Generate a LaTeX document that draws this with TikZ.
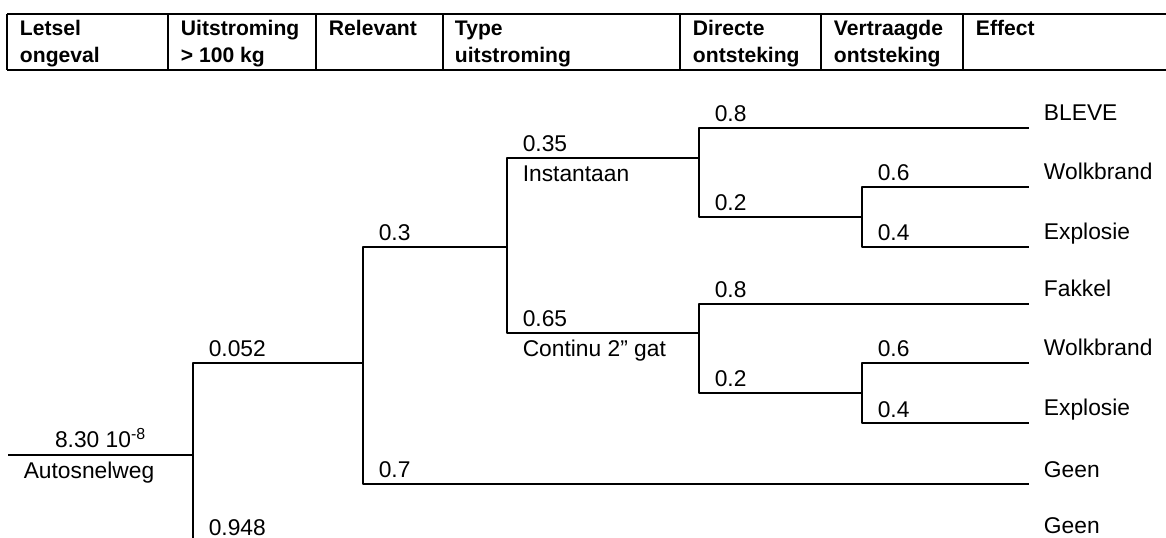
\documentclass[tikz,border=0pt]{standalone}
\usepackage{fontspec}
\setmainfont{Liberation Sans}
\begin{document}
\begin{tikzpicture}[x=0.025cm, y=-0.025cm, line width=1.4pt, line join=round,
  font=\fontsize{16.2}{19}\selectfont,
  head/.style={anchor=base west, inner sep=0pt, align=left, font=\fontsize{15}{19.2}\selectfont\bfseries},
  prob/.style={anchor=base west, inner sep=0pt, xshift=0.37cm, yshift=0.15cm},
  under/.style={anchor=base west, inner sep=0pt, xshift=0.37cm, yshift=-0.575cm},
  eff/.style={anchor=base west, inner sep=0pt, xshift=0.35cm, yshift=0.175cm}]
 \useasboundingbox (0,0) rectangle (1166,538);
 % header
 \draw (7,14)--(1166,14) (7,70)--(1166,70);
 \draw (7,14)--(7,70) (168,14)--(168,70) (316,14)--(316,70) (443,14)--(443,70)
       (680,14)--(680,70) (821,14)--(821,70) (963,14)--(963,70);
 \node[head] (h1) at (19,63) {Letsel\\ongeval};
 \node[head] (h2) at (180,63) {Uitstroming\\> 100 kg};
 \node[head] (h3) at (328,36) {Relevant};
 \node[head] (h4) at (454,63) {Type\\uitstroming};
 \node[head] (h5) at (692,63) {Directe\\ontsteking};
 \node[head] (h6) at (833,63) {Vertraagde\\ontsteking};
 \node[head] (h7) at (975,36) {Effect};
 % branch points
 \coordinate (root) at (8,455);
 \coordinate (n1) at (193,455);
 \coordinate (n2) at (363,363);
 \coordinate (n3) at (507,247);
 \coordinate (n4) at (699,158);
 \coordinate (n5) at (699,333);
 \coordinate (n6) at (862,217);
 \coordinate (n7) at (862,393);
 % end points
 \coordinate (l1) at (1029,128);
 \coordinate (l2) at (1029,187);
 \coordinate (l3) at (1029,247);
 \coordinate (l4) at (1029,304);
 \coordinate (l5) at (1029,363);
 \coordinate (l6) at (1029,423);
 \coordinate (l7) at (1029,484);
 \coordinate (l8) at (1029,541);
 % tree
 \draw (root) -- node[anchor=base, inner sep=0pt, yshift=0.175cm]{8.30 10\textsuperscript{-8}} (n1);
 \node[under] (r) at (root) {Autosnelweg};
 \draw (n1) |- node[prob]{0.052} (n2);
 \draw (n1) -- (n1 |- l8) node[prob]{0.948};
 \draw (n2) |- node[prob]{0.3} (n3);
 \draw (n2) |- node[prob]{0.7} (l7) node[eff]{Geen};
 \draw (n3) |- node[prob]{0.35} node[under]{Instantaan} (n4);
 \draw (n3) |- node[prob]{0.65} node[under]{Continu 2” gat} (n5);
 \draw (n4) |- node[prob]{0.8} (l1) node[eff]{BLEVE};
 \draw (n4) |- node[prob]{0.2} (n6);
 \draw (n6) |- node[prob]{0.6} (l2) node[eff]{Wolkbrand};
 \draw (n6) |- node[prob]{0.4} (l3) node[eff]{Explosie};
 \draw (n5) |- node[prob]{0.8} (l4) node[eff]{Fakkel};
 \draw (n5) |- node[prob]{0.2} (n7);
 \draw (n7) |- node[prob]{0.6} (l5) node[eff]{Wolkbrand};
 \draw (n7) |- node[prob]{0.4} (l6) node[eff]{Explosie};
 \node[eff] (g) at (l8) {Geen};
\end{tikzpicture}
\end{document}
